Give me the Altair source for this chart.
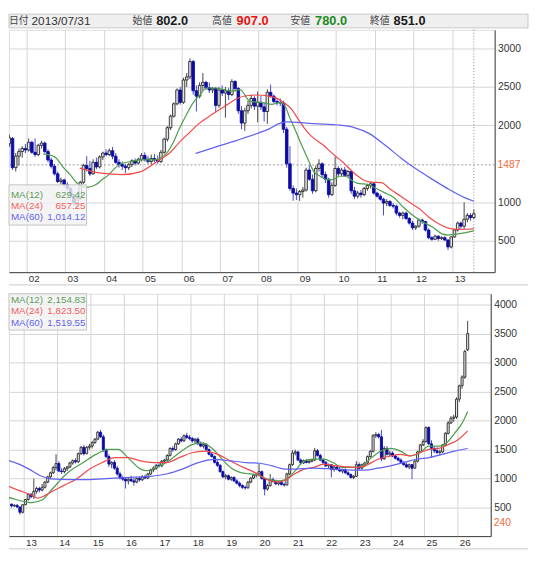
import altair as alt
import pandas as pd

# ---------------- top panel: monthly candles, Jun 2001 .. Jul 2013 ----------------
top_start = (2001, 6)
top_open = [1780, 1760, 1830, 1450, 1600, 1660, 1700,
            1680, 1780, 1650, 1620, 1740, 1770, 1660, 1550, 1470, 1370, 1270, 1290,
            1230, 1180, 1100, 990, 1050, 1260, 1480, 1440, 1370, 1520, 1460, 1590,
            1640, 1620, 1670, 1600, 1520, 1490, 1470, 1450, 1490, 1540, 1510, 1560,
            1610, 1560, 1530, 1570, 1550, 1530, 1650, 1820, 1970, 2120, 2280, 2460,
            2300, 2590, 2630, 2830, 2450, 2380, 2520, 2560, 2490, 2460, 2480, 2260,
            2460, 2420, 2450, 2400, 2570, 2480, 2190, 2030, 2190, 2260, 2350, 2250,
            2300, 2240, 2180, 2430, 2380, 2310, 2300, 2290, 1950, 1500, 1180, 1120,
            1100, 1140, 1160, 1420, 1300, 1150, 1440, 1500, 1360, 1300, 1100, 1220,
            1440, 1370, 1420, 1350, 1400, 1150, 1080, 1120, 1100, 1180, 1220, 1240,
            1120, 1080, 1040, 990, 1010, 960, 950, 860, 830, 860, 790, 730,
            670, 690, 770, 750, 640, 540, 520, 560, 530, 540, 510, 420,
            550, 640, 730, 690, 780, 830, 802]
top_high = [1850, 1880, 1850, 1640, 1700, 1730, 1760,
            1830, 1800, 1830, 1760, 1800, 1790, 1690, 1580, 1500, 1400, 1320, 1310,
            1260, 1200, 1120, 1080, 1280, 1500, 1600, 1540, 1560, 1580, 1610, 1660,
            1690, 1700, 1720, 1640, 1560, 1530, 1500, 1510, 1560, 1570, 1580, 1640,
            1650, 1600, 1620, 1630, 1610, 1680, 1840, 1990, 2140, 2300, 2480, 2500,
            2620, 2680, 2870, 2850, 2520, 2560, 2680, 2580, 2560, 2500, 2500, 2500,
            2520, 2500, 2490, 2600, 2590, 2500, 2250, 2230, 2320, 2400, 2380, 2440,
            2380, 2300, 2470, 2530, 2400, 2340, 2350, 2320, 1980, 1730, 1220, 1180,
            1160, 1200, 1450, 1480, 1360, 1480, 1560, 1520, 1400, 1320, 1260, 1590,
            1470, 1450, 1460, 1420, 1420, 1200, 1150, 1160, 1200, 1240, 1270, 1260,
            1140, 1110, 1060, 1040, 1030, 990, 970, 880, 880, 880, 810, 760,
            700, 790, 790, 760, 660, 560, 580, 570, 560, 560, 520, 560,
            650, 750, 750, 1000, 860, 860, 907]
top_low = [1700, 1720, 1420, 1400, 1480, 1580, 1640,
           1660, 1630, 1590, 1600, 1700, 1640, 1520, 1440, 1350, 1250, 1230, 1200,
           1150, 1080, 960, 920, 1030, 1240, 1400, 1340, 1360, 1430, 1440, 1550,
           1600, 1600, 1560, 1500, 1450, 1420, 1380, 1420, 1460, 1480, 1490, 1530,
           1530, 1500, 1490, 1520, 1500, 1510, 1630, 1790, 1940, 2100, 2260, 2270,
           2280, 2500, 2600, 2400, 2180, 2350, 2450, 2460, 2420, 2420, 2170, 2230,
           2380, 2100, 2330, 2380, 2440, 2150, 1950, 1930, 2150, 2220, 2200, 2040,
           2200, 2050, 2020, 2360, 2280, 2260, 2250, 1900, 1450, 1150, 1020, 1030,
           1020, 1060, 1140, 1280, 1110, 1130, 1400, 1320, 1250, 1060, 1080, 1200,
           1340, 1340, 1330, 1320, 1110, 1040, 1050, 1060, 1080, 1150, 1180, 1100,
           1060, 1020, 830, 950, 940, 920, 830, 800, 780, 770, 710, 640,
           640, 670, 720, 620, 520, 500, 510, 500, 510, 500, 380, 400,
           540, 620, 660, 650, 740, 760, 780]
top_close = [1760, 1840, 1450, 1600, 1660, 1700, 1680,
             1780, 1650, 1620, 1740, 1770, 1660, 1550, 1470, 1370, 1270, 1290, 1230,
             1180, 1100, 990, 1050, 1260, 1480, 1440, 1370, 1520, 1460, 1590, 1640,
             1620, 1670, 1600, 1520, 1490, 1470, 1450, 1490, 1540, 1510, 1560, 1610,
             1560, 1530, 1570, 1550, 1530, 1650, 1820, 1970, 2120, 2280, 2460, 2300,
             2590, 2630, 2830, 2450, 2380, 2520, 2560, 2490, 2460, 2480, 2260, 2460,
             2420, 2450, 2400, 2570, 2480, 2190, 2030, 2190, 2260, 2350, 2250, 2300,
             2240, 2180, 2430, 2380, 2310, 2300, 2290, 1950, 1500, 1180, 1120, 1100,
             1140, 1160, 1420, 1300, 1150, 1440, 1500, 1360, 1300, 1100, 1220, 1440,
             1370, 1420, 1350, 1400, 1150, 1080, 1120, 1100, 1180, 1220, 1240, 1120,
             1080, 1040, 990, 1010, 960, 950, 860, 830, 860, 790, 730, 670,
             690, 770, 750, 640, 540, 520, 560, 530, 540, 510, 420, 550,
             640, 730, 690, 780, 830, 802, 851]

top_ma12_t = [2002.43, 2002.72, 2002.97, 2003.13, 2003.30, 2003.47, 2003.59, 2003.80, 2003.96, 2004.13,
              2004.29, 2004.46, 2004.71, 2004.96, 2005.29, 2005.45, 2005.62, 2005.78, 2005.95, 2006.12,
              2006.28, 2006.49, 2006.65, 2006.86, 2007.11, 2007.31, 2007.52, 2007.77, 2008.10, 2008.35,
              2008.56, 2008.68, 2008.80, 2008.97, 2009.13, 2009.30, 2009.42, 2009.59, 2009.76, 2009.92,
              2010.09, 2010.25, 2010.42, 2010.54, 2010.83, 2011.00, 2011.25, 2011.49, 2011.74, 2011.99,
              2012.24, 2012.49, 2012.74, 2012.90, 2013.15, 2013.56]
top_ma12_v = [1630, 1594, 1445, 1360, 1254, 1200, 1198, 1232, 1296, 1360,
              1445, 1505, 1530, 1551, 1551, 1572, 1636, 1764, 1955, 2125,
              2274, 2401, 2486, 2486, 2465, 2444, 2465, 2316, 2295, 2274,
              2295, 2252, 2104, 1912, 1721, 1530, 1402, 1339, 1296, 1296,
              1339, 1339, 1280, 1250, 1232, 1190, 1126, 1062, 935, 829,
              744, 680, 590, 575, 590, 629.42]
top_ma24_t = [2003.38, 2003.70, 2004.00, 2004.46, 2004.96, 2005.20, 2005.45, 2005.70, 2005.95, 2006.20,
              2006.45, 2006.70, 2006.94, 2007.19, 2007.44, 2007.69, 2007.94, 2008.27, 2008.50, 2008.68,
              2008.85, 2009.01, 2009.18, 2009.34, 2009.51, 2009.67, 2009.84, 2010.01, 2010.18, 2010.34,
              2010.55, 2010.75, 2010.90, 2011.17, 2011.41, 2011.66, 2011.91, 2012.16, 2012.40, 2012.65,
              2012.90, 2013.15, 2013.40, 2013.56]
top_ma24_v = [1444, 1400, 1375, 1360, 1400, 1470, 1556, 1640, 1780, 1900,
              2020, 2110, 2190, 2270, 2350, 2385, 2395, 2380, 2345, 2285,
              2210, 2090, 1965, 1870, 1800, 1745, 1665, 1590, 1520, 1440,
              1345, 1280, 1262, 1255, 1167, 1082, 997, 912, 806, 721,
              665, 648, 650, 657.25]
top_ma60_t = [2006.37, 2006.90, 2007.44, 2007.94, 2008.27, 2008.51, 2008.73, 2009.00, 2009.30, 2009.70,
              2010.03, 2010.45, 2010.87, 2011.27, 2011.69, 2012.10, 2012.50, 2012.92, 2013.32, 2013.56]
top_ma60_v = [1635, 1721, 1806, 1891, 1955, 2019, 2045, 2040, 2026, 2015,
              2005, 1975, 1890, 1741, 1571, 1422, 1295, 1167, 1061, 1014.12]

# ---------------- bottom panel: monthly candles, Aug 2012 .. Apr 2026 ----------------
bot_start = (2012, 8)
bot_open = [560, 530, 540, 510, 420,
            550, 640, 730, 690, 780, 830, 802, 851, 940, 1030, 1100, 1190,
            1260, 1130, 1120, 1170, 1200, 1270, 1310, 1290, 1430, 1540, 1430, 1540,
            1560, 1620, 1680, 1800, 1720, 1500, 1380, 1250, 1280, 1180, 1080, 1010,
            990, 960, 990, 960, 940, 1000, 980, 1030, 1010, 1080, 1150, 1180,
            1230, 1220, 1300, 1320, 1400, 1520, 1500, 1600, 1680, 1650, 1740, 1710,
            1690, 1650, 1680, 1600, 1560, 1590, 1500, 1420, 1380, 1280, 1230, 1120,
            1030, 1050, 990, 1020, 960, 920, 880, 850, 840, 940, 1010, 1060,
            1080, 1120, 1000, 820, 880, 980, 950, 910, 940, 900, 890, 1080,
            1240, 1440, 1460, 1320, 1270, 1310, 1280, 1300, 1320, 1480, 1400, 1320,
            1280, 1220, 1240, 1160, 1200, 1160, 1130, 1150, 1100, 1070, 1020, 1040,
            1240, 1180, 1240, 1270, 1380, 1470, 1740, 1760, 1720, 1340, 1520, 1420,
            1440, 1390, 1350, 1320, 1280, 1240, 1200, 1240, 1180, 1300, 1460, 1580,
            1640, 1880, 1600, 1520, 1480, 1450, 1460, 1580, 1780, 1960, 2040, 2060,
            2370, 2600, 2750, 3220]
bot_high = [570, 560, 560, 520, 560,
            650, 750, 750, 1000, 860, 860, 907, 960, 1050, 1120, 1220, 1420,
            1300, 1180, 1200, 1220, 1290, 1330, 1350, 1450, 1560, 1580, 1560, 1600,
            1650, 1700, 1820, 1840, 1760, 1520, 1420, 1300, 1320, 1220, 1120, 1050,
            1030, 1020, 1050, 1010, 1020, 1040, 1060, 1070, 1100, 1170, 1210, 1250,
            1280, 1320, 1340, 1420, 1540, 1560, 1620, 1700, 1720, 1760, 1790, 1750,
            1720, 1700, 1710, 1640, 1620, 1610, 1520, 1460, 1400, 1320, 1250, 1140,
            1080, 1070, 1040, 1040, 990, 950, 900, 880, 960, 1030, 1080, 1100,
            1250, 1140, 1020, 910, 1080, 1020, 980, 960, 960, 930, 1100, 1260,
            1490, 1500, 1480, 1350, 1330, 1340, 1330, 1340, 1530, 1510, 1430, 1350,
            1300, 1260, 1250, 1220, 1230, 1200, 1170, 1180, 1130, 1090, 1060, 1300,
            1280, 1260, 1290, 1400, 1490, 1770, 1800, 1790, 1840, 1560, 1560, 1480,
            1470, 1420, 1380, 1350, 1300, 1270, 1260, 1250, 1320, 1480, 1600, 1680,
            1900, 1900, 1660, 1560, 1540, 1500, 1600, 1800, 1990, 2080, 2100, 2400,
            2620, 2780, 3220, 3720]
bot_low = [500, 510, 500, 380, 400,
           540, 620, 660, 650, 740, 760, 780, 830, 920, 990, 1080, 1140,
           1110, 1080, 1090, 1130, 1180, 1240, 1260, 1270, 1410, 1400, 1420, 1500,
           1520, 1600, 1660, 1700, 1460, 1350, 1200, 1180, 1150, 1050, 990, 960,
           830, 900, 940, 880, 920, 950, 960, 990, 990, 1060, 1110, 1150,
           1190, 1200, 1260, 1300, 1380, 1460, 1480, 1580, 1620, 1630, 1680, 1660,
           1620, 1600, 1580, 1540, 1520, 1480, 1400, 1360, 1260, 1200, 1100, 1010,
           990, 970, 960, 940, 900, 850, 820, 810, 830, 920, 990, 1020,
           1050, 980, 710, 790, 860, 930, 890, 880, 880, 860, 880, 1060,
           1220, 1400, 1300, 1240, 1250, 1260, 1260, 1280, 1300, 1380, 1300, 1250,
           1200, 1180, 1020, 1120, 1140, 1110, 1090, 1080, 1050, 1000, 990, 1030,
           1150, 1160, 1200, 1250, 1360, 1450, 1700, 1690, 1300, 1320, 1400, 1380,
           1370, 1330, 1300, 1260, 1220, 1180, 1160, 990, 1170, 1280, 1440, 1560,
           1620, 1580, 1360, 1440, 1420, 1400, 1440, 1560, 1760, 1940, 1980, 2030,
           2320, 2550, 2720, 3200]
bot_close = [530, 540, 510, 420, 550,
             640, 730, 690, 780, 830, 802, 851, 940, 1030, 1100, 1190, 1260,
             1130, 1120, 1170, 1200, 1270, 1310, 1290, 1430, 1540, 1430, 1540, 1560,
             1620, 1680, 1800, 1720, 1500, 1380, 1250, 1280, 1180, 1080, 1010, 990,
             960, 990, 960, 940, 1000, 980, 1030, 1010, 1080, 1150, 1180, 1230,
             1220, 1300, 1320, 1400, 1520, 1500, 1600, 1680, 1650, 1740, 1710, 1690,
             1650, 1680, 1600, 1560, 1590, 1500, 1420, 1380, 1280, 1230, 1120, 1030,
             1050, 990, 1020, 960, 920, 880, 850, 840, 940, 1010, 1060, 1080,
             1120, 1000, 820, 880, 980, 950, 910, 940, 900, 890, 1080, 1240,
             1440, 1460, 1320, 1270, 1310, 1280, 1300, 1320, 1480, 1400, 1320, 1280,
             1220, 1240, 1160, 1200, 1160, 1130, 1150, 1100, 1070, 1020, 1040, 1240,
             1180, 1240, 1270, 1380, 1470, 1740, 1760, 1720, 1340, 1520, 1420, 1440,
             1390, 1350, 1320, 1280, 1240, 1200, 1240, 1180, 1300, 1460, 1580, 1640,
             1880, 1600, 1520, 1480, 1450, 1460, 1580, 1780, 1960, 2040, 2060, 2370,
             2600, 2750, 3190, 3500]

bot_ma12_t = [2012.50, 2012.77, 2013.06, 2013.25, 2013.58, 2013.83, 2014.02, 2014.21, 2014.40, 2014.79,
              2015.17, 2015.55, 2015.84, 2016.13, 2016.51, 2016.71, 2016.99, 2017.28, 2017.67, 2018.05,
              2018.34, 2018.63, 2018.91, 2019.20, 2019.49, 2019.78, 2019.97, 2020.26, 2020.45, 2020.64,
              2020.83, 2021.12, 2021.41, 2021.70, 2021.99, 2022.27, 2022.56, 2022.85, 2023.14, 2023.43,
              2023.71, 2024.00, 2024.29, 2024.58, 2024.87, 2025.15, 2025.44, 2025.73, 2025.92, 2026.11,
              2026.31]
bot_ma12_v = [685, 640, 601, 585, 640, 800, 920, 1040, 1136, 1277,
              1418, 1503, 1503, 1362, 1164, 1136, 1193, 1277, 1446, 1587,
              1615, 1531, 1362, 1193, 1108, 1080, 1070, 1000, 975, 960,
              980, 1120, 1305, 1334, 1334, 1277, 1193, 1193, 1221, 1362,
              1475, 1520, 1475, 1390, 1446, 1559, 1559, 1644, 1785, 1926,
              2154.83]
bot_ma24_t = [2012.50, 2012.86, 2013.25, 2013.44, 2013.83, 2014.21, 2014.59, 2014.98, 2015.36, 2015.75,
              2016.13, 2016.51, 2016.90, 2017.28, 2017.67, 2018.05, 2018.43, 2018.82, 2019.20, 2019.59,
              2019.97, 2020.26, 2020.64, 2020.83, 2021.12, 2021.41, 2021.70, 2021.99, 2022.37, 2022.66,
              2022.95, 2023.23, 2023.62, 2024.00, 2024.29, 2024.58, 2024.87, 2025.15, 2025.44, 2025.73,
              2026.02, 2026.31]
bot_ma24_v = [880, 798, 714, 665, 770, 883, 995, 1164, 1277, 1362,
              1362, 1305, 1277, 1277, 1362, 1446, 1475, 1418, 1305, 1193,
              1095, 995, 939, 967, 1080, 1164, 1193, 1249, 1221, 1204,
              1193, 1221, 1334, 1390, 1418, 1390, 1446, 1503, 1520, 1587,
              1672, 1823.50]
bot_ma60_t = [2012.50, 2012.86, 2013.25, 2013.54, 2013.83, 2014.40, 2014.98, 2015.36, 2015.84, 2016.32,
              2016.80, 2017.28, 2017.76, 2018.24, 2018.72, 2019.20, 2019.68, 2020.07, 2020.45, 2020.83,
              2021.12, 2021.70, 2022.27, 2022.85, 2023.23, 2023.62, 2024.00, 2024.39, 2024.77, 2025.15,
              2025.54, 2025.92, 2026.31]
bot_ma60_v = [1320, 1249, 1136, 1040, 995, 984, 984, 995, 1012, 1024,
              1040, 1080, 1164, 1277, 1333, 1305, 1277, 1265, 1221, 1164,
              1164, 1181, 1164, 1148, 1148, 1181, 1221, 1277, 1334, 1362,
              1418, 1475, 1519.55]

header_date = "2013/07/31"
top_marker = 1487
bot_marker = 240

# ---------------- styling ----------------
FONT = "Liberation Sans"
CJK = "Noto Sans CJK JP"
GRID = "#d4d4d4"
AXC = "#3c3c3c"
TXT = "#333333"
GREEN, RED, BLUE = "#4f9f4f", "#f04b4b", "#6262f2"
LEG_G, LEG_R, LEG_B = "#5c9c5c", "#f25f5f", "#6464ee"
UP_FILL, UP_LINE = "#e6e6e6", "#262626"
DN_FILL, DN_WICK = "#0c0ca4", "#4848cc"
ORANGE = "#f2693a"


def month_positions(start, n):
    y0, m0 = start
    out = []
    for i in range(n):
        k = m0 - 1 + i
        out.append(y0 + k // 12 + (k % 12 + 0.7) / 12)
    return out


def ohlc_frame(start, o, h, l, c):
    return pd.DataFrame({"t": month_positions(start, len(o)), "o": o, "h": h, "l": l, "c": c})


def fmt(v):
    return f"{v:,.2f}"


ONE = pd.DataFrame({"k": [0]})


def pixel_text(txt, px, py, font, size, color, weight="normal", align="left"):
    return alt.Chart(ONE).mark_text(
        align=align, baseline="middle", font=font, fontSize=size, fontWeight=weight,
        color=color).encode(x=alt.value(px), y=alt.value(py), text=alt.value(txt))


def pixel_hline(py, x0, x1, color):
    return alt.Chart(ONE).mark_rule(color=color, strokeWidth=1).encode(
        x=alt.value(x0), x2=alt.value(x1), y=alt.value(py))


def panel(df, mas, xdom, xticks, ydom, yticks, w, h, body_size, marker,
          box, rows_y, price_line=False, cursor=False, extra_layers=()):
    xs = alt.X("t:Q", scale=alt.Scale(domain=xdom, nice=False, zero=False),
               axis=alt.Axis(values=xticks, title=None, grid=True, gridColor=GRID, gridWidth=1,
                             ticks=False, domain=True, domainColor=AXC,
                             labelExpr="slice(format(datum.value, 'd'), 2)",
                             labelAlign="left", labelOffset=2, labelPadding=2,
                             labelFontSize=10, labelColor=TXT, labelFont=FONT))

    def ys(field):
        return alt.Y(field, scale=alt.Scale(domain=ydom, nice=False, zero=False),
                     axis=alt.Axis(orient="right", values=yticks, format="d", title=None, grid=True,
                                   gridColor=GRID, gridWidth=1, ticks=False, domain=True,
                                   domainColor=AXC, labelPadding=3, labelFontSize=10.5,
                                   labelColor=TXT, labelFont=FONT))

    up = "datum.c >= datum.o"
    base = alt.Chart(df)
    layers = []
    if price_line:
        layers.append(alt.Chart(pd.DataFrame({"v": [marker]})).mark_rule(
            color="#9a9a9a", strokeDash=[2, 2], strokeWidth=1).encode(y=ys("v:Q")))
    if cursor:
        layers.append(alt.Chart(df.tail(1)).mark_rule(
            color="#8a8a8a", strokeDash=[1, 2], strokeWidth=1).encode(x=xs))

    wick = base.mark_rule(clip=True, strokeWidth=1).encode(
        x=xs, y=ys("l:Q"), y2="h:Q",
        color=alt.condition(up, alt.value("#444444"), alt.value(DN_WICK)))
    bodies = base.mark_bar(clip=True, size=body_size, strokeWidth=0.9, orient="vertical").encode(
        x=xs, y=ys("o:Q"), y2="c:Q",
        fill=alt.condition(up, alt.value(UP_FILL), alt.value(DN_FILL)),
        stroke=alt.condition(up, alt.value(UP_LINE), alt.value(DN_FILL)))
    layers += [wick, bodies]

    for (tt, vv, col) in mas:
        layers.append(alt.Chart(pd.DataFrame({"t": tt, "v": vv})).mark_line(
            clip=True, color=col, strokeWidth=1.25, interpolate="monotone").encode(
            x=xs, y=ys("v:Q")))

    layers.append(alt.Chart(pd.DataFrame({"v": [marker]})).mark_text(
        align="left", baseline="middle", color=ORANGE, font=FONT, fontSize=10.5).encode(
        x=alt.value(w + 3), y=ys("v:Q"), text=alt.Text("v:Q", format="d")))

    # legend box
    bx0, bx1, by0, by1 = box
    layers.append(alt.Chart(ONE).mark_rect(
        fill="#f1f1f1", fillOpacity=0.82, stroke="#c4c4c4", strokeWidth=1).encode(
        x=alt.value(bx0), x2=alt.value(bx1), y=alt.value(by0), y2=alt.value(by1)))
    names = ["MA(12)", "MA(24)", "MA(60)"]
    cols = [LEG_G, LEG_R, LEG_B]
    for name, col, (tt, vv, _), yy in zip(names, cols, mas, rows_y):
        layers.append(pixel_text(name, bx0 + 2, yy, FONT, 10, col))
        layers.append(pixel_text(fmt(vv[-1]), bx1 - 1, yy, FONT, 10, col, align="right"))

    layers.extend(extra_layers)
    return alt.layer(*layers).properties(width=w, height=h)


top_df = ohlc_frame(top_start, top_open, top_high, top_low, top_close)
bot_df = ohlc_frame(bot_start, bot_open, bot_high, bot_low, bot_close)

TOP_W, TOP_H = 495, 247
BOT_W, BOT_H = 491, 247

# header bar (drawn above the top panel)
header = [alt.Chart(ONE).mark_rect(fill="#efefef", stroke="#c6c6c6", strokeWidth=1).encode(
    x=alt.value(0), x2=alt.value(529), y=alt.value(-16), y2=alt.value(-2))]
hy = -8.5
o_v, h_v, l_v, c_v = top_open[-1], top_high[-1], top_low[-1], top_close[-1]
header_items = [
    ("日付", 0, CJK, 10, "normal", "#444444"),
    (header_date, 23, FONT, 12, "normal", "#333333"),
    ("始値", 126, CJK, 10, "normal", "#444444"),
    (f"{o_v:.1f}", 150, FONT, 13, "bold", "#1a1a1a"),
    ("高値", 207, CJK, 10, "normal", "#444444"),
    (f"{h_v:.1f}", 232, FONT, 13, "bold", "#ee1111"),
    ("安値", 287, CJK, 10, "normal", "#444444"),
    (f"{l_v:.1f}", 312, FONT, 13, "bold", "#1c8a1c"),
    ("終値", 368, CJK, 10, "normal", "#444444"),
    (f"{c_v:.1f}", 392, FONT, 13, "bold", "#1a1a1a"),
]
for txt, px, fnt, fs, fw, col in header_items:
    header.append(pixel_text(txt, px, hy, fnt, fs, col, weight=fw))

top_chart = panel(
    top_df,
    [(top_ma12_t, top_ma12_v, GREEN), (top_ma24_t, top_ma24_v, RED), (top_ma60_t, top_ma60_v, BLUE)],
    [2001.677, 2013.97], list(range(2002, 2014)),
    [92, 3242], [500, 1000, 2000, 2500, 3000],
    TOP_W, TOP_H, 2.6, top_marker,
    (0, 79, 158, 199), [168, 179.5, 191],
    price_line=True, cursor=True, extra_layers=header)

# thin separator strips above and below the lower panel
bot_extra = [pixel_hline(-9, 0, 529, "#c8c8c8"), pixel_hline(BOT_H + 13, 0, 529, "#c8c8c8")]

bot_chart = panel(
    bot_df,
    [(bot_ma12_t, bot_ma12_v, GREEN), (bot_ma24_t, bot_ma24_v, RED), (bot_ma60_t, bot_ma60_v, BLUE)],
    [2012.712, 2026.853], list(range(2013, 2027)),
    [9, 4186], [500, 1000, 1500, 2000, 2500, 3000, 3500, 4000],
    BOT_W, BOT_H, 2.1, bot_marker,
    (0, 79, 0, 37), [6, 18, 30], extra_layers=bot_extra)

chart = alt.vconcat(top_chart, bot_chart, spacing=22, bounds="flush").properties(
    padding=0
).configure_view(stroke="#c2c2c2").configure(background="white")

chart.save("out.html", embed_options={"renderer": "svg", "actions": False})
